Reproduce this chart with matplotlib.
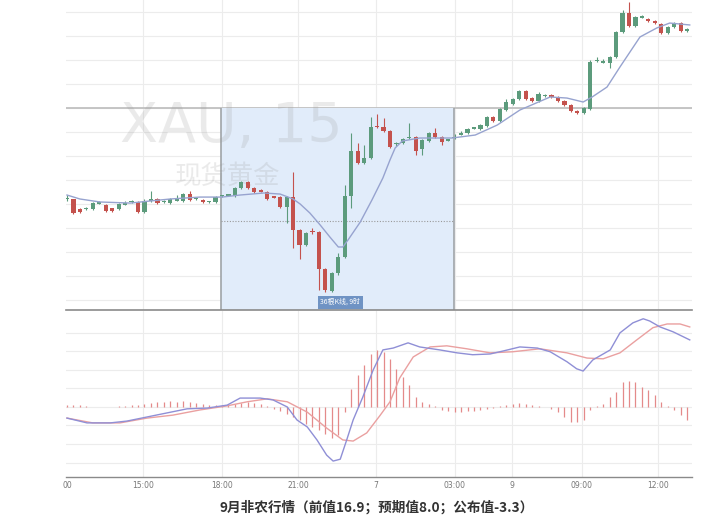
import numpy as np
import matplotlib
matplotlib.use('Agg')
from matplotlib import pyplot as plt

plt.rcParams['font.family'] = ['DejaVu Sans', 'Noto Sans CJK SC']

# 15-minute candles, index 0 = 12:00
opens = [1268.42, 1268.38, 1267.58, 1267.58, 1267.58, 1268.04, 1267.92, 1267.63, 1267.58, 1267.96,
         1268.13, 1268.17, 1267.33, 1268.25, 1268.42, 1268.13, 1268.08, 1268.29, 1268.25, 1268.83,
         1268.38, 1268.33, 1268.13, 1268.17, 1268.63, 1268.71, 1268.67, 1269.33, 1269.83, 1269.33,
         1269.08, 1269.00, 1268.58, 1268.58, 1267.75, 1268.58, 1265.83, 1264.58, 1265.67, 1265.67,
         1262.58, 1260.75, 1262.25, 1263.58, 1268.67, 1272.42, 1271.42, 1271.83, 1274.42, 1274.42,
         1274.08, 1272.96, 1273.08, 1273.46, 1273.58, 1272.58, 1273.25, 1273.92, 1273.58, 1273.29,
         1273.50, 1273.79, 1273.92, 1274.29, 1274.25, 1274.50, 1275.25, 1274.92, 1275.83, 1276.33,
         1276.75, 1277.42, 1276.83, 1276.58, 1276.96, 1277.08, 1276.92, 1276.58, 1276.25, 1275.75,
         1275.58, 1275.92, 1279.88, 1279.79, 1279.75, 1280.25, 1282.33, 1283.92, 1282.83, 1283.54,
         1283.42, 1283.25, 1283.00, 1282.25, 1282.75, 1283.08, 1282.42]
highs = [1268.75, 1268.42, 1267.67, 1267.75, 1268.17, 1268.25, 1268.00, 1267.67, 1268.08, 1268.25,
         1268.33, 1268.25, 1268.42, 1269.08, 1268.50, 1268.33, 1268.50, 1268.75, 1268.92, 1269.08,
         1268.50, 1268.42, 1268.25, 1268.67, 1268.75, 1268.83, 1269.42, 1269.92, 1269.92, 1269.42,
         1269.25, 1269.08, 1268.67, 1268.67, 1268.67, 1270.67, 1265.92, 1265.67, 1266.00, 1265.75,
         1262.67, 1262.33, 1263.92, 1269.58, 1273.92, 1273.08, 1272.92, 1275.25, 1275.50, 1275.17,
         1274.17, 1273.17, 1273.50, 1274.75, 1273.67, 1273.42, 1274.00, 1274.33, 1273.67, 1273.42,
         1273.83, 1274.08, 1274.33, 1274.42, 1274.67, 1275.33, 1275.33, 1276.00, 1276.75, 1276.83,
         1277.50, 1277.50, 1276.92, 1277.33, 1277.17, 1277.17, 1277.00, 1276.67, 1276.33, 1275.83,
         1276.08, 1280.00, 1280.25, 1280.08, 1280.33, 1282.42, 1284.17, 1284.83, 1283.67, 1283.75,
         1283.50, 1283.33, 1283.08, 1282.83, 1283.17, 1283.17, 1282.67]
lows = [1268.25, 1267.17, 1267.25, 1267.50, 1267.50, 1268.00, 1267.33, 1267.33, 1267.50, 1267.92,
        1268.08, 1267.25, 1267.25, 1268.17, 1268.00, 1268.08, 1268.00, 1268.25, 1268.17, 1268.25,
        1268.33, 1268.08, 1268.08, 1268.08, 1268.58, 1268.67, 1268.58, 1269.25, 1269.25, 1268.92,
        1269.00, 1268.33, 1268.50, 1267.67, 1266.42, 1264.33, 1263.42, 1264.50, 1265.50, 1260.83,
        1260.67, 1260.67, 1262.08, 1263.50, 1267.67, 1271.33, 1271.33, 1271.75, 1274.33, 1274.00,
        1272.67, 1272.83, 1273.00, 1273.42, 1272.08, 1272.08, 1273.17, 1273.50, 1272.92, 1273.25,
        1273.42, 1273.75, 1273.83, 1274.25, 1274.17, 1274.42, 1274.83, 1274.83, 1275.75, 1276.25,
        1276.67, 1276.67, 1276.50, 1276.50, 1276.92, 1276.83, 1276.50, 1276.17, 1275.67, 1275.50,
        1275.50, 1275.83, 1279.83, 1279.75, 1279.33, 1280.17, 1282.25, 1282.75, 1282.75, 1283.50,
        1283.17, 1283.00, 1282.17, 1282.17, 1282.67, 1282.33, 1282.33]
closes = [1268.45, 1267.25, 1267.33, 1267.67, 1268.08, 1268.08, 1267.42, 1267.42, 1268.00, 1268.00,
          1268.17, 1267.33, 1268.25, 1268.42, 1268.08, 1268.17, 1268.42, 1268.33, 1268.83, 1268.33,
          1268.42, 1268.17, 1268.17, 1268.58, 1268.67, 1268.75, 1269.33, 1269.83, 1269.33, 1269.00,
          1269.04, 1268.42, 1268.54, 1267.75, 1268.58, 1265.83, 1264.58, 1265.58, 1265.63, 1262.58,
          1260.83, 1262.25, 1263.58, 1268.67, 1272.42, 1271.42, 1271.83, 1274.42, 1274.38, 1274.08,
          1272.75, 1273.00, 1273.42, 1273.50, 1272.42, 1273.33, 1273.92, 1273.58, 1273.17, 1273.33,
          1273.58, 1273.83, 1274.25, 1274.33, 1274.58, 1275.25, 1274.92, 1275.92, 1276.50, 1276.75,
          1277.42, 1276.75, 1276.58, 1277.17, 1277.00, 1276.92, 1276.58, 1276.25, 1275.75, 1275.58,
          1276.00, 1279.83, 1279.92, 1279.83, 1280.25, 1282.33, 1283.92, 1282.83, 1283.58, 1283.58,
          1283.25, 1283.08, 1282.25, 1282.75, 1283.08, 1282.42, 1282.58]

# moving average read at a few points (candle index, price)
ma_x = [0, 2, 5.1, 9.8, 12.8, 16, 20.6, 24, 26.8, 30.5, 33, 35, 36.1, 37.6, 39.2, 40.7, 42, 42.7,
        43.5, 45.4, 47.2, 48.9, 50, 50.8, 51.9, 54.6, 59.6, 63.2, 66.6, 70.1, 74.8, 77.4, 79.9,
        81.3, 83.6, 85.6, 88.7, 91.3, 93.3, 96.4]
ma_y = [1268.75, 1268.42, 1268.17, 1268.08, 1268.25, 1268.42, 1268.58, 1268.58, 1268.75, 1268.92,
        1268.83, 1268.42, 1268.00, 1267.25, 1266.25, 1265.25, 1264.42, 1264.42, 1265.00, 1266.50,
        1268.33, 1270.17, 1271.67, 1272.67, 1273.25, 1273.50, 1273.50, 1273.75, 1274.58, 1275.83,
        1276.92, 1276.83, 1276.50, 1276.92, 1277.75, 1279.42, 1281.92, 1282.67, 1283.08, 1282.92]

# MACD
dif_x = [0, 3.1, 6.7, 9.3, 12.4, 15.5, 18.6, 21.7, 24.8, 26.8, 29.9, 31.9, 34.1, 35.6, 37.2, 38.7,
         40.2, 41.2, 42.3, 43.3, 44.3, 45.8, 47.4, 48.9, 50.5, 52.8, 54.6, 57.7, 60.4, 62.8, 65.5,
         67.5, 70.1, 72.8, 74.8, 77.4, 78.9, 79.9, 81.4, 84.1, 85.6, 87.6, 89.2, 90.2, 91.8, 93.8, 96.4]
dif_y = [-0.30, -0.43, -0.43, -0.38, -0.27, -0.16, -0.05, -0.03, 0.05, 0.24, 0.24, 0.19, 0.00,
         -0.35, -0.54, -0.89, -1.30, -1.46, -1.41, -0.89, -0.35, 0.27, 1.00, 1.54, 1.59, 1.73, 1.62,
         1.54, 1.46, 1.41, 1.43, 1.51, 1.62, 1.59, 1.49, 1.22, 1.03, 0.97, 1.27, 1.54, 2.00, 2.27,
         2.38, 2.32, 2.16, 2.03, 1.81]
dea_x = [0, 4.0, 8.2, 12.4, 16.4, 20.6, 24.8, 27.9, 31.0, 34.1, 37.2, 40.2, 42.7, 44.3, 46.4, 48.5,
         50.0, 51.5, 53.6, 56.2, 58.8, 61.9, 65.5, 69.0, 73.2, 77.4, 80.5, 83.0, 85.6, 88.2, 90.7,
         92.9, 94.9, 96.4]
dea_y = [-0.30, -0.43, -0.43, -0.30, -0.22, -0.08, 0.03, 0.14, 0.22, 0.14, -0.14, -0.57, -0.89,
         -0.92, -0.70, -0.22, 0.14, 0.78, 1.35, 1.62, 1.65, 1.57, 1.46, 1.49, 1.57, 1.46, 1.32, 1.30,
         1.46, 1.81, 2.14, 2.24, 2.24, 2.16]
hist = [0.05, 0.05, 0.04, 0.03, 0.01, 0.01, 0.01, 0.01, 0.03, 0.03,
        0.04, 0.05, 0.08, 0.11, 0.14, 0.14, 0.16, 0.14, 0.16, 0.14,
        0.11, 0.08, 0.05, 0.04, 0.04, 0.05, 0.08, 0.11, 0.14, 0.11,
        0.08, 0.03, -0.05, -0.11, -0.19, -0.27, -0.35, -0.46, -0.54, -0.62,
        -0.73, -0.84, -0.76, -0.14, 0.49, 0.86, 1.14, 1.43, 1.54, 1.49,
        1.30, 1.03, 0.81, 0.59, 0.27, 0.14, 0.08, 0.03, -0.08, -0.11,
        -0.14, -0.14, -0.11, -0.11, -0.08, -0.05, -0.03, 0.03, 0.05, 0.08,
        0.11, 0.08, 0.05, 0.03, 0.01, -0.05, -0.14, -0.27, -0.41, -0.41,
        -0.35, -0.08, 0.03, 0.08, 0.27, 0.41, 0.68, 0.70, 0.68, 0.54,
        0.46, 0.32, 0.14, 0.03, -0.08, -0.22, -0.35]

tick_pos = [0, 11.8, 24, 35.8, 47.8, 60, 68.9, 79.7, 91.5]
tick_lab = ['00', '15:00', '18:00', '21:00', '7', '03:00', '9', '09:00', '12:00']

box_start, box_end = 23.8, 59.9
box_top = 1276
box_mid = 1266.58

fig = plt.figure(figsize=(7.25, 5.19), dpi=100)
ax1 = fig.add_axes([66/725, 1-310/519, 626/725, 310/519])
ax2 = fig.add_axes([66/725, 1-477/519, 626/725, 166/519])

x = np.arange(len(opens))
o = np.array(opens); c = np.array(closes)
h = np.array(highs); l = np.array(lows)
up = c >= o
cols = np.where(up, '#5c9b7c', '#c4524d')

ax1.set_xlim(-0.15, 96.75)
ax1.set_ylim(1259.17, 1285)
for yy in np.arange(1260, 1285, 2):
    ax1.axhline(yy, color='#ececec', lw=0.8, zorder=0)
for xx in tick_pos[1:]:
    ax1.axvline(xx, color='#ececec', lw=0.8, zorder=0)
ax1.axhline(box_top, color='#bcbcbc', lw=1.2, zorder=1)

ax1.axvspan(box_start, box_end, ymin=0, ymax=(box_top-1259.17)/(1285-1259.17),
            facecolor='#e1ecfa', edgecolor='none', zorder=1)
ax1.vlines([box_start, box_end], 1259.17, box_top, color='#a0a4a8', lw=1.2, zorder=2)
ax1.hlines(box_mid, box_start, box_end, color='#9a9a9a', lw=0.8, linestyles=(0, (1, 1.5)), zorder=2)

ax1.text(8.2, 1274.42, 'XAU, 15', fontsize=40, color='#9a9a9a', alpha=0.2,
         ha='left', va='center', zorder=2)
ax1.text(16.7, 1270.33, '现货黄金', fontsize=19, color='#9a9a9a', alpha=0.2,
         ha='left', va='center', family=['Noto Sans CJK SC'], zorder=2)

ax1.vlines(x, l, h, color=cols, lw=0.8, zorder=3)
body = np.maximum(np.abs(c - o), 0.1)
ax1.bar(x, body, bottom=np.minimum(o, c), width=0.65, color=cols, zorder=4)
ax1.plot(ma_x, ma_y, color='#97a3cf', lw=1.0, zorder=5)

ax1.text(42.3, 1259.83, '36根K线, 9时', fontsize=5, color='white', ha='center', va='center',
         family=['Noto Sans CJK SC', 'DejaVu Sans'], zorder=6,
         bbox=dict(boxstyle='square,pad=0.35', facecolor='#6f93c4', edgecolor='none'))

ax1.set_xticks([])
ax1.set_yticks([])
for s in ['top', 'left', 'right']:
    ax1.spines[s].set_visible(False)
ax1.spines['bottom'].set_color('#8a8a8a')
ax1.spines['bottom'].set_linewidth(1.2)

# MACD panel
ax2.set_xlim(-0.15, 96.75)
ax2.set_ylim(-1.89, 2.59)
for yy in np.arange(-1.5, 2.01, 0.5):
    ax2.axhline(yy, color='#ececec', lw=0.8, zorder=0)
for xx in tick_pos[1:]:
    ax2.axvline(xx, color='#ececec', lw=0.8, zorder=0)
ax2.vlines(x, 0, hist, color='#e48a8a', lw=0.9, zorder=2)
ax2.plot(dea_x, dea_y, color='#eaa0a0', lw=1.0, zorder=3)
ax2.plot(dif_x, dif_y, color='#8f8fd6', lw=1.0, zorder=4)

ax2.set_yticks([])
ax2.set_xticks(tick_pos)
ax2.set_xticklabels(tick_lab, fontsize=5.5, color='#777777')
ax2.tick_params(axis='x', length=0, pad=3)
for s in ['top', 'left', 'right']:
    ax2.spines[s].set_visible(False)
ax2.spines['bottom'].set_color('#8a8a8a')
ax2.spines['bottom'].set_linewidth(1.0)

fig.text(377/725, 1-507/519, '9月非农行情（前值16.9；预期值8.0；公布值-3.3）',
         ha='center', va='center', fontsize=9.8, fontweight='bold', color='#333333',
         family=['Noto Sans CJK SC', 'DejaVu Sans'])

fig.savefig('out.png', dpi=100)
